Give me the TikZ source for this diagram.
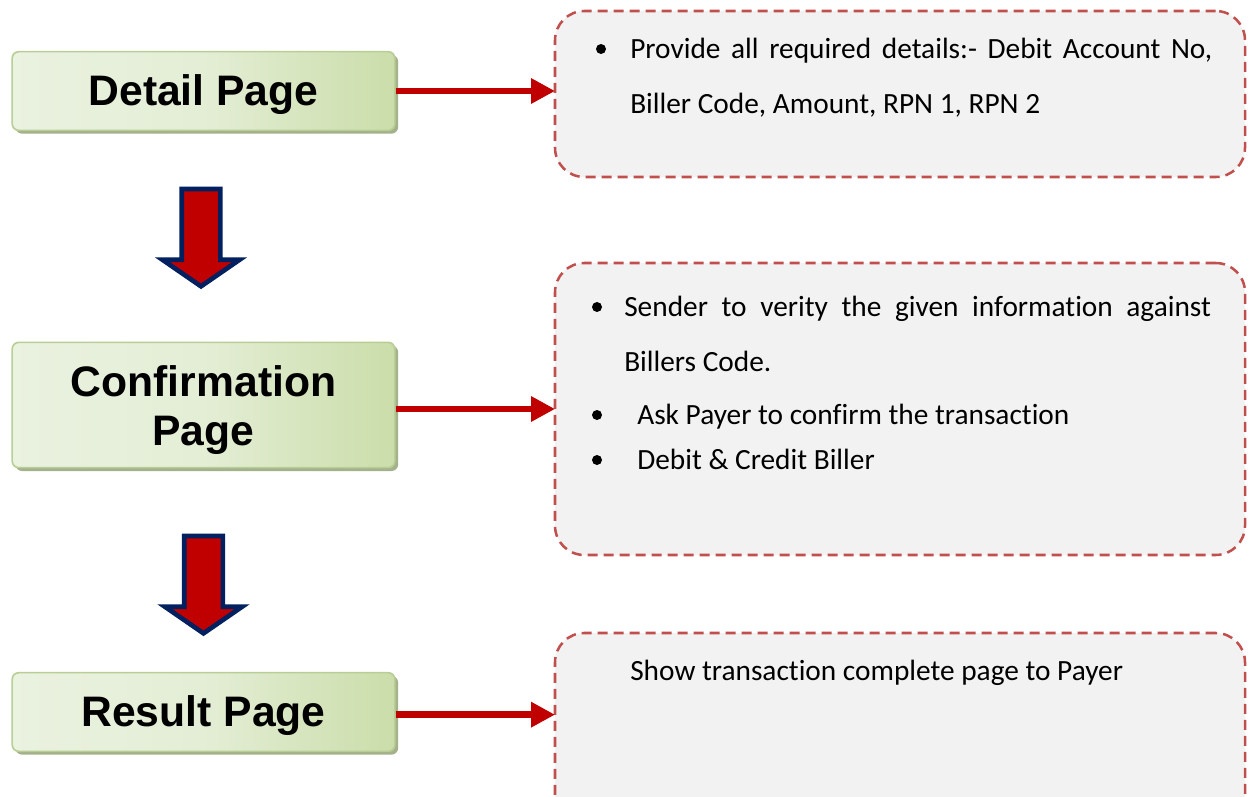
\documentclass[tikz,border=0pt]{standalone}
\usepackage{fontspec}
\setmainfont{Carlito}[Ligatures=NoCommon]
\newfontfamily\arialfont{Liberation Sans}
\usetikzlibrary{arrows.meta,shadows}
\definecolor{arrred}{HTML}{C00000}
\definecolor{navyb}{HTML}{002060}
\definecolor{dashred}{HTML}{C0504D}
\definecolor{boxgray}{HTML}{F2F2F2}
\definecolor{gbord}{HTML}{B9CD96}
\definecolor{gshadow}{HTML}{A3B28A}
\definecolor{glight}{HTML}{EAF2E0}
\definecolor{gdark}{HTML}{CBDDAA}
\tikzset{
  pagebox/.style={draw=gbord, line width=1.2pt, rounded corners=5pt,
    shading=axis, shading angle=60, left color=glight, right color=gdark, middle color=glight!80!gdark,
    minimum width=287pt,
    drop shadow={shadow xshift=2.5pt, shadow yshift=-2.5pt, fill=gshadow, opacity=1},
    font=\arialfont\bfseries\fontsize{32}{38}\selectfont, inner sep=0pt},
  dbox/.style={draw=dashred, fill=boxgray, line width=1.9pt, dash pattern=on 7.5pt off 4.5pt,
    rounded corners=22pt, minimum width=517.5pt, inner sep=0pt},
  redarrow/.style={draw=arrred, line width=5.2pt, -{Triangle[length=18pt,width=18pt]}, shorten >=-1pt},
  blockarrow/.style={fill=arrred, draw=navyb, line width=3.5pt, line join=miter},
  bodytext/.style={font=\fontsize{22}{41.25}\selectfont, inner sep=0pt, anchor=base west},
  bulletdot/.style={circle, fill=black, inner sep=0pt, minimum size=7.5pt}
}
\begin{document}
\begin{tikzpicture}[x=0.75pt, y=-0.75pt]
\path[use as bounding box, clip] (0,0) rectangle (1251,796);
\fill[white] (0,0) rectangle (1251,796);

% left page boxes
\node[pagebox, minimum height=59pt, text height=28pt, text depth=6.7pt] (detail) at (203.5,91) {Detail Page};
\node[pagebox, minimum height=94pt, text height=28pt, text depth=6.7pt] (confirm) at (203.5,405)
  {\begin{tabular}{@{}c@{}}Confirmation\\[-1pt]Page\end{tabular}};
\node[pagebox, minimum height=59pt, text height=28pt, text depth=6.7pt] (result) at (203.5,712) {Result Page};

% dashed boxes
\node[dbox, minimum height=124.5pt] (box1) at (900,94) {};
\node[dbox, minimum height=219pt] (box2) at (900,409) {};
\node[dbox, minimum height=150pt] (box3) at (900,733) {};

% block arrows
\coordinate (ba1) at (201,189);
\coordinate (ba2) at (203.5,536);
\foreach \c in {ba1,ba2}{
  \draw[blockarrow] ([xshift=-14.5pt]\c) -- ([xshift=14.5pt]\c) -- ([xshift=14.5pt,yshift=-53pt]\c)
    -- ([xshift=29pt,yshift=-53pt]\c) -- ([yshift=-73pt]\c) -- ([xshift=-29pt,yshift=-53pt]\c)
    -- ([xshift=-14.5pt,yshift=-53pt]\c) -- cycle;
}

% red connectors
\draw[redarrow] (detail.east) -- (detail.east -| box1.west);
\draw[redarrow] ([yshift=-3pt]confirm.east) -- ([yshift=-3pt]confirm.east -| box2.west);
\draw[redarrow] ([yshift=-2pt]result.east) -- ([yshift=-2pt]result.east -| box3.west);

% box 1 text
\node[bulletdot] (b1) at (601,49) {};
\node[bodytext, text width=436.5pt, align=justify] (t1) at (630,58)
  {Provide all required details:- Debit Account No, Biller Code, Amount, RPN 1, RPN 2};

% box 2 text
\node[bulletdot] (b2) at (597,307) {};
\node[bodytext, text width=440pt, align=justify] (t2) at (624,316)
  {Sender to verity the given information against Billers Code.};
\node[bulletdot] (b3) at (597,415) {};
\node[bodytext] (t3) at (637,424) {Ask Payer to confirm the transaction};
\node[bulletdot] (b4) at (597,460) {};
\node[bodytext] (t4) at (637,469) {Debit \& Credit Biller};

% box 3 text
\node[bodytext] (t5) at (630,680) {Show transaction complete page to Payer};
\end{tikzpicture}
\end{document}
